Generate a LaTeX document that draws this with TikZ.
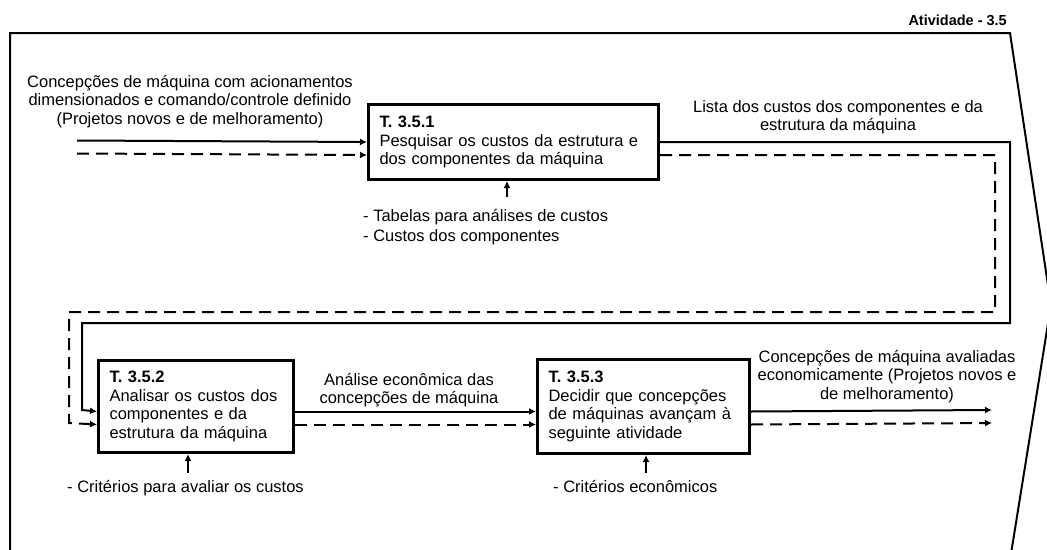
\documentclass[tikz,border=0pt]{standalone}
\usepackage{fontspec}
\setmainfont{Liberation Sans}
\usetikzlibrary{positioning,arrows.meta}

\begin{document}
\begin{tikzpicture}[x=1pt,y=-1pt,
  every node/.style={font=\fontsize{16.5}{18.5}\selectfont},
  task/.style={draw,line width=3pt,anchor=north west,align=left,inner xsep=11pt,inner ysep=0pt},
  flow/.style={line width=2pt,-{Latex[length=7pt,width=7pt]}},
  flowd/.style={flow,dash pattern=on 12pt off 7pt},
  lbl/.style={inner sep=0pt,align=center}]
\useasboundingbox (0,0) rectangle (1047,549);
\clip (0,0) rectangle (1047,549);
\draw[line width=2pt] (10,560) -- (10,33) -- (1010,33) -- (1051,305) -- (1010,560);
\node[anchor=south east,inner sep=0pt,font=\bfseries\fontsize{14.5}{16}\selectfont] (atv) at (1007,26) {Atividade - 3.5};
\node[task,text width=268pt,minimum height=75pt] (t1) at (367,103) {\textbf{T. 3.5.1}\\Pesquisar os custos da estrutura e\\dos componentes da máquina};
\node[task,text width=173pt,minimum height=92pt] (t2) at (97,359) {\textbf{T. 3.5.2}\\Analisar os custos dos\\componentes e da\\estrutura da máquina};
\node[task,text width=190pt,minimum height=94pt] (t3) at (536,358) {\textbf{T. 3.5.3}\\Decidir que concepções\\de máquinas avançam à\\seguinte atividade};
\coordinate (in) at (77,140.5);
\coordinate (out) at (992,410);
\coordinate (m1) at (507,197);
\coordinate (m2) at (188,473);
\coordinate (m3) at (646,473);
\draw[flow] (in) -- (t1.west);
\draw[flowd] ([yshift=-13pt]in) -- ([yshift=-13pt]t1.west);
\draw[flow] (t1.east) -| (1010,323) -| (82,410) -- ([yshift=-5pt]t2.west);
\draw[flowd] ([yshift=-13pt]t1.east) -| (995,312) -| (69,423) -- ([yshift=-18pt]t2.west);
\draw[flow] ([yshift=-5pt]t2.east) -- ([yshift=-5pt]t3.west);
\draw[flowd] ([yshift=-18pt]t2.east) -- ([yshift=-18pt]t3.west);
\draw[flow] ([yshift=-5pt]t3.east) -- (out);
\draw[flowd] ([yshift=-18pt]t3.east) -- ([yshift=-13pt]out);
\draw[flow] (m1) -- (m1 |- t1.south);
\draw[flow] (m2) -- (m2 |- t2.south);
\draw[flow] (m3) -- (m3 |- t3.south);
\node[lbl,anchor=north] (inlbl) at (190,75) {Concepções de máquina com acionamentos\\dimensionados e comando/controle definido\\(Projetos novos e de melhoramento)};
\node[lbl,anchor=north] (t1lbl) at (838,100) {Lista dos custos dos componentes e da\\estrutura da máquina};
\node[lbl,anchor=north] (t2lbl) at (409,373) {Análise econômica das\\concepções de máquina};
\node[lbl,anchor=north] (t3lbl) at (887,350) {Concepções de máquina avaliadas\\economicamente (Projetos novos e\\de melhoramento)};
\node[lbl,anchor=north west,align=left] (m1lbl) at (363,209) {- Tabelas para análises de custos\\[1.5pt]- Custos dos componentes};
\node[lbl,anchor=north west] (m2lbl) at (67,480) {- Critérios para avaliar os custos};
\node[lbl,anchor=north west] (m3lbl) at (553,480) {- Critérios econômicos};
\end{tikzpicture}
\end{document}
